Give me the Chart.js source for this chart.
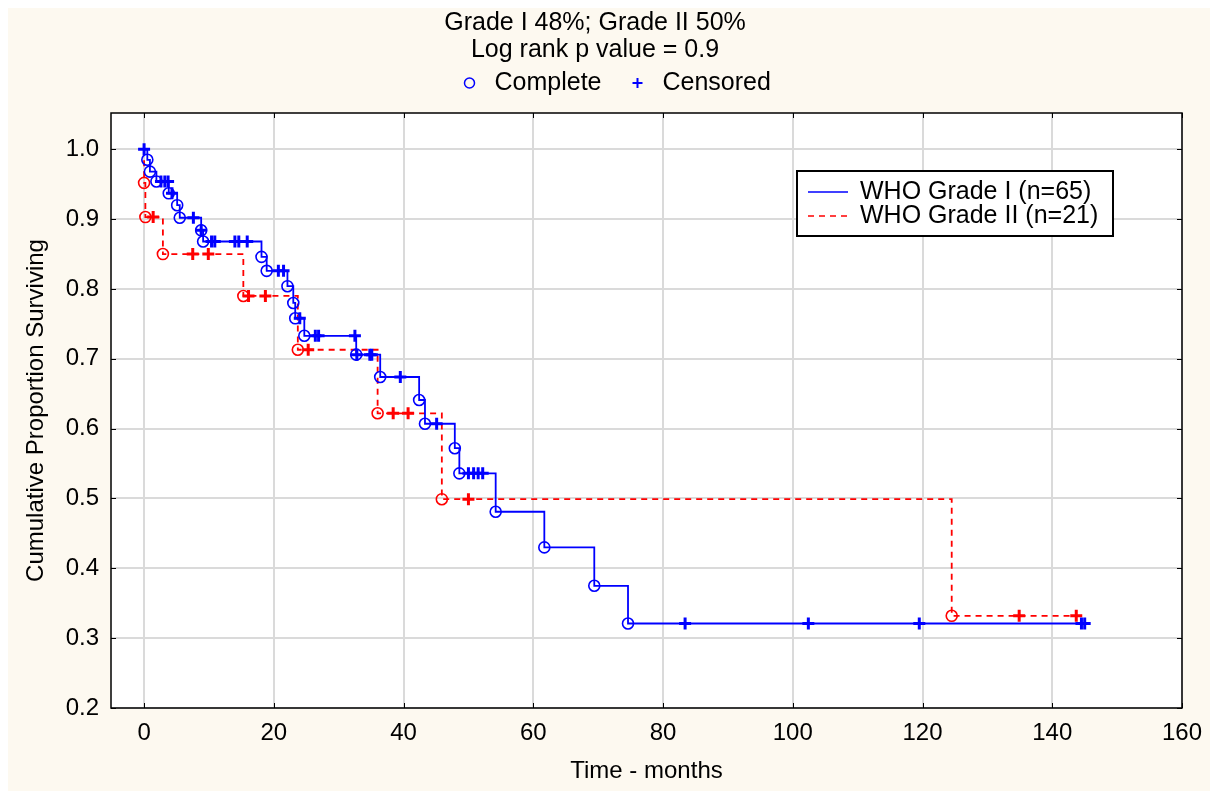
<!DOCTYPE html>
<html>
<head>
<meta charset="utf-8">
<title>Survival by WHO grade</title>
<script src="https://cdn.jsdelivr.net/npm/chart.js@4.4.1/dist/chart.umd.min.js"></script>
<style>
  html, body { margin: 0; padding: 0; background: #fff; }
  canvas { display: block; }
</style>
</head>
<body>
<canvas id="kmChart" width="1215" height="791"></canvas>
<script>
const titleLines = ['Grade I 48%; Grade II 50%', 'Log rank p value = 0.9']
const markerLabels = ['Complete', 'Censored']
const axisTitleX = 'Time - months'
const axisTitleY = 'Cumulative Proportion Surviving'
const xTicks = [0, 20, 40, 60, 80, 100, 120, 140, 160]
const yTicks = [0.2, 0.3, 0.4, 0.5, 0.6, 0.7, 0.8, 0.9, 1.0]

const startTime = 0
const startSurv = 1.0

// WHO grade I, n=65
const gradeILabel = 'WHO Grade I (n=65)'
const gradeIEventTimes = [0.5, 0.9, 1.9, 3.8, 5.1, 5.5, 8.8, 9.1, 18.1, 18.9, 22.1, 23.0,
  23.3, 24.7, 32.7, 36.4, 42.4, 43.3, 47.9, 48.6, 54.2, 61.7, 69.4, 74.6]
const gradeIEventSurv = [0.985, 0.968, 0.954, 0.937, 0.920, 0.902, 0.884, 0.868, 0.846, 0.826, 0.804, 0.780,
  0.758, 0.733, 0.706, 0.674, 0.641, 0.607, 0.572, 0.536, 0.481, 0.430, 0.375, 0.321]
const gradeICensorTimes = [0, 2.6, 3.2, 3.7, 4.3, 7.6, 8.8, 10.4, 10.9, 14.0, 14.6, 15.9,
  20.7, 21.5, 24.0, 26.4, 26.9, 32.5, 32.8, 34.8, 35.1, 39.5, 45.1, 50.0, 50.8, 51.5, 52.2,
  83.4, 102.4, 119.5, 144.5, 145.0]

// WHO grade II, n=21
const gradeIILabel = 'WHO Grade II (n=21)'
const gradeIIEventTimes = [0, 0.2, 2.9, 15.3, 23.7, 36.0, 45.9, 124.5]
const gradeIIEventSurv = [0.952, 0.903, 0.850, 0.790, 0.713, 0.622, 0.499, 0.332]
const gradeIICensorTimes = [1.4, 7.5, 9.9, 16.1, 18.7, 25.3, 38.4, 40.7, 50.0, 134.9, 143.7]

const fontFamily = "'Liberation Sans', Arial, sans-serif"
const blue = '#0000ff'
const red = '#ff0000'

// value of the step curve at time t
function survAt(times, surv, t) {
  let s = startSurv
  times.forEach((tt, i) => { if (tt <= t) s = surv[i] })
  return s
}

function stepLine(times, surv, censors) {
  const pts = [{ x: startTime, y: startSurv }]
  times.forEach((t, i) => pts.push({ x: t, y: surv[i] }))
  const last = Math.max(...censors)
  if (last > times[times.length - 1]) pts.push({ x: last, y: surv[surv.length - 1] })
  return pts
}

function eventPoints(times, surv) {
  return times.map((t, i) => ({ x: t, y: surv[i] }))
}

function censorPoints(times, surv, censors) {
  return censors.map(t => ({ x: t, y: survAt(times, surv, t) }))
}

const circleStyle = { pointStyle: 'circle', pointRadius: 5.5, pointBorderWidth: 1.6, pointBackgroundColor: 'rgba(0,0,0,0)' }
const crossStyle = { pointStyle: 'cross', pointRadius: 6, pointBorderWidth: 3 }

const kmBackground = {
  id: 'kmBackground',
  beforeDraw(chart) {
    const { ctx, width, height, chartArea: a } = chart
    ctx.save()
    ctx.fillStyle = '#ffffff'
    ctx.fillRect(0, 0, width, height)
    ctx.fillStyle = '#fdf9f0'
    ctx.fillRect(8, 8, width - 13, height - 8)
    ctx.fillStyle = '#ffffff'
    ctx.fillRect(a.left, a.top, a.right - a.left, a.bottom - a.top)
    ctx.restore()
  }
}

// black frame with short inward ticks on all four sides
const kmFrame = {
  id: 'kmFrame',
  beforeDatasetsDraw(chart) {
    const { ctx, chartArea: a, scales: { x, y } } = chart
    ctx.save()
    ctx.strokeStyle = '#000'
    ctx.lineWidth = 1
    ctx.beginPath()
    xTicks.forEach(v => {
      const px = Math.round(x.getPixelForValue(v)) + 0.5
      ctx.moveTo(px, a.bottom); ctx.lineTo(px, a.bottom - 5)
      ctx.moveTo(px, a.top); ctx.lineTo(px, a.top + 5)
    })
    yTicks.forEach(v => {
      const py = Math.round(y.getPixelForValue(v)) + 0.5
      ctx.moveTo(a.left, py); ctx.lineTo(a.left + 5, py)
      ctx.moveTo(a.right, py); ctx.lineTo(a.right - 5, py)
    })
    ctx.stroke()
    ctx.lineWidth = 1.5
    ctx.strokeRect(a.left, a.top, a.right - a.left, a.bottom - a.top)
    ctx.restore()
  }
}

const kmLegends = {
  id: 'kmLegends',
  afterDraw(chart) {
    const { ctx, width, chartArea: a } = chart
    const cx = width / 2
    ctx.save()
    ctx.font = '25px ' + fontFamily
    ctx.textBaseline = 'middle'
    ctx.textAlign = 'left'

    // marker key under the title
    const ky = 83
    ctx.fillStyle = 'rgba(0,0,0,0)'
    ctx.strokeStyle = blue
    ctx.lineWidth = 1.5
    Chart.helpers.drawPoint(ctx, { pointStyle: 'circle', radius: 5, rotation: 0, borderWidth: 1.5 }, cx - 138, ky)
    ctx.lineWidth = 2
    Chart.helpers.drawPoint(ctx, { pointStyle: 'cross', radius: 5, rotation: 0, borderWidth: 2 }, cx + 30, ky)
    ctx.fillStyle = '#000'
    ctx.fillText(markerLabels[0], cx - 113, ky)
    ctx.fillText(markerLabels[1], cx + 55, ky)

    // series box inside the plot
    const bx = a.right - 385, by = a.top + 58, bw = 316, bh = 65
    ctx.fillStyle = '#fff'
    ctx.fillRect(bx, by, bw, bh)
    ctx.strokeStyle = '#000'
    ctx.lineWidth = 2
    ctx.strokeRect(bx, by, bw, bh)
    const rows = [
      { label: gradeILabel, color: blue, dash: [] },
      { label: gradeIILabel, color: red, dash: [6, 5] }
    ]
    rows.forEach((r, i) => {
      const ry = by + 21 + i * 24
      ctx.strokeStyle = r.color
      ctx.lineWidth = 1.6
      ctx.setLineDash(r.dash)
      ctx.beginPath()
      ctx.moveTo(bx + 11, ry)
      ctx.lineTo(bx + 51, ry)
      ctx.stroke()
      ctx.setLineDash([])
      ctx.fillStyle = '#000'
      ctx.fillText(r.label, bx + 63, ry)
    })
    ctx.restore()
  }
}

const tickFont = { family: fontFamily, size: 24 }

new Chart(document.getElementById('kmChart'), {
  type: 'scatter',
  data: {
    datasets: [
      { label: markerLabels[1], data: censorPoints(gradeIEventTimes, gradeIEventSurv, gradeICensorTimes),
        borderColor: blue, backgroundColor: blue, ...crossStyle },
      { label: markerLabels[0], data: eventPoints(gradeIEventTimes, gradeIEventSurv),
        borderColor: blue, ...circleStyle },
      { type: 'line', label: gradeILabel, data: stepLine(gradeIEventTimes, gradeIEventSurv, gradeICensorTimes),
        borderColor: blue, borderWidth: 1.8, stepped: 'before', pointRadius: 0, fill: false },
      { label: 'censored II', data: censorPoints(gradeIIEventTimes, gradeIIEventSurv, gradeIICensorTimes),
        borderColor: red, backgroundColor: red, ...crossStyle },
      { label: 'complete II', data: eventPoints(gradeIIEventTimes, gradeIIEventSurv),
        borderColor: red, ...circleStyle },
      { type: 'line', label: gradeIILabel, data: stepLine(gradeIIEventTimes, gradeIIEventSurv, gradeIICensorTimes),
        borderColor: red, borderWidth: 1.8, borderDash: [6, 5], stepped: 'before', pointRadius: 0, fill: false }
    ]
  },
  options: {
    responsive: false,
    animation: false,
    devicePixelRatio: 1,
    layout: { padding: { left: 8, right: 33, top: 0, bottom: 0 } },
    plugins: {
      legend: { display: false },
      tooltip: { enabled: false },
      title: {
        display: true,
        text: titleLines,
        color: '#000',
        font: { family: fontFamily, size: 25, weight: 'normal', lineHeight: 1.08 },
        padding: { top: 10, bottom: 49 }
      }
    },
    scales: {
      x: {
        type: 'linear',
        min: -5.1,
        max: 160,
        afterBuildTicks: s => { s.ticks = xTicks.map(v => ({ value: v })) },
        afterFit: s => { s.height = 83 },
        grid: { color: '#dadada', lineWidth: 2, drawTicks: false },
        border: { display: false },
        ticks: { color: '#000', font: tickFont, padding: 11, callback: v => String(v) },
        title: { display: true, text: axisTitleX, color: '#000', font: tickFont, padding: { top: 0, bottom: 5 } }
      },
      y: {
        type: 'linear',
        min: 0.2,
        max: 1.052,
        afterBuildTicks: s => { s.ticks = yTicks.map(v => ({ value: v })) },
        afterFit: s => { s.width = 103 },
        grid: { color: '#dadada', lineWidth: 2, drawTicks: false },
        border: { display: false },
        ticks: { color: '#000', font: tickFont, padding: 12, callback: v => v.toFixed(1) },
        title: { display: true, text: axisTitleY, color: '#000', font: tickFont, padding: { top: 14, bottom: 0 } }
      }
    }
  },
  plugins: [kmBackground, kmFrame, kmLegends]
})
</script>
</body>
</html>
